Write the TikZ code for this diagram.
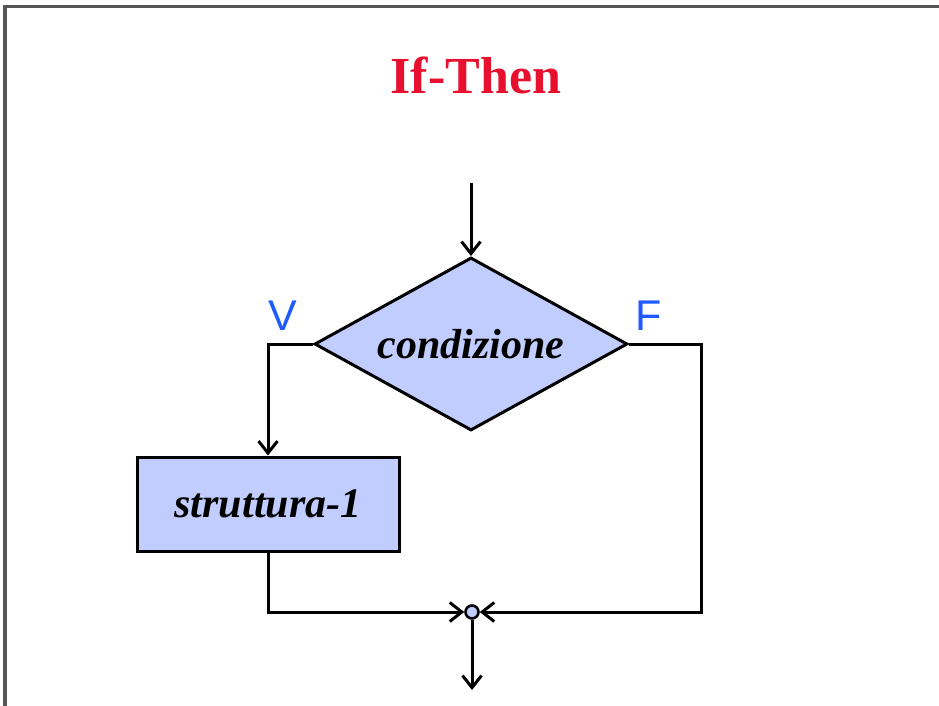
\documentclass[tikz,border=0pt]{standalone}
\usepackage{fontspec}
\setmainfont{Liberation Serif}
\newfontfamily\labelfont{Liberation Sans}
\usetikzlibrary{shapes.geometric,arrows.meta}
\definecolor{fillblue}{RGB}{193,204,255}
\definecolor{titlered}{RGB}{232,16,47}
\definecolor{labelblue}{RGB}{30,90,255}
\definecolor{framegray}{RGB}{85,85,85}

\begin{document}
\begin{tikzpicture}[x=1pt, y=-1pt,
	decision/.style={diamond, draw, line width=3pt, fill=fillblue, inner sep=0pt,
		minimum width=313pt, minimum height=173pt, aspect=1.8,
		font=\fontsize{42}{42}\selectfont\bfseries\itshape},
	block/.style={rectangle, draw, line width=3pt, fill=fillblue,
		minimum width=262pt, minimum height=94pt,
		font=\fontsize{42}{42}\selectfont\bfseries\itshape},
	junction/.style={circle, draw, line width=2.6pt, fill=fillblue, inner sep=0pt, minimum size=13pt},
	branch/.style={text=labelblue, font=\labelfont\fontsize{43}{43}\selectfont},
	flow/.style={line width=3pt, -{Straight Barb[length=12pt, width=19pt]}}
	]
	\useasboundingbox (0,0) rectangle (939,706);
	\draw[framegray, line width=3.5pt] (5,706) -- (5,6.5) -- (939,6.5);

	\node[text=titlered, font=\fontsize{52}{52}\selectfont\bfseries] (title) at (476,75) {If-Then};

	\coordinate (in) at (471,183);
	\node[decision] (cond) at (471,344) {condizione};
	\node[block] (body) at (268,504) {struttura-1};
	\node[junction] (join) at (472,612) {};
	\coordinate (out) at (472,690);

	\node[branch] (vlab) at (283,316) {V};
	\node[branch] (flab) at (649,316) {F};

	% yes branch, then the no branch back to the join
	\draw[flow] (in) -- (cond.north);
	\draw[flow] (cond.west) -| (body.north);
	\draw[flow] (body.south) |- (join.west);
	\draw[flow] (cond.east) -- ++(72,0) |- (join.east);
	\draw[flow] (join.south) -- (out);
\end{tikzpicture}
\end{document}
